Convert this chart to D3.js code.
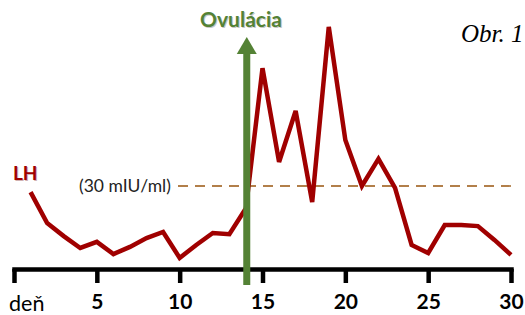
<!DOCTYPE html>
<html>
<head>
<meta charset="utf-8">
<script src="https://cdn.jsdelivr.net/npm/d3@7"></script>
<style>
  body { margin: 0; background: #fff; }
  svg { display: block; }
</style>
</head>
<body>
<svg width="525" height="315"></svg>
<script>
// LH levels (mIU/ml) per cycle day
const days = d3.range(1, 31);
const lh = [27.8, 16.6, 11.9, 7.6, 9.8, 5.4, 8.0, 11.2, 13.4, 4.0,
            8.7, 13.0, 12.6, 22.0, 72.6, 38.7, 57.1, 24.2, 87.5, 46.6,
            30.0, 39.8, 29.3, 8.7, 5.8, 15.9, 15.9, 15.5, 10.5, 5.1];
const tickDays = [0, 5, 10, 15, 20, 25, 30];
const threshold = 30;
const ovulationDay = 14.05;

const svg = d3.select("svg");

const x = d3.scaleLinear().domain([0, 30]).range([14, 511]);
const y = d3.scaleLinear().domain([0, 30]).range([269, 186]);

// threshold dashed line
svg.append("line")
  .attr("x1", 178)
  .attr("x2", x(30))
  .attr("y1", y(threshold))
  .attr("y2", y(threshold))
  .attr("stroke", "#b27f4a")
  .attr("stroke-width", 1.8)
  .attr("stroke-dasharray", "10,7");

svg.append("text")
  .attr("x", 79)
  .attr("y", y(threshold) + 6)
  .attr("font-family", "Lato, sans-serif")
  .attr("font-size", 17.5)
  .attr("fill", "#222")
  .text("(30 mIU/ml)");

// LH line
const line = d3.line()
  .x((d, i) => x(days[i]))
  .y((d) => y(d));

svg.append("path")
  .datum(lh)
  .attr("fill", "none")
  .attr("stroke", "#a00000")
  .attr("stroke-width", 4.5)
  .attr("stroke-linejoin", "miter")
  .attr("d", line);

// axis
const axis = svg.append("g")
  .attr("transform", `translate(0,${y(0)})`)
  .call(d3.axisBottom(x)
    .tickValues(tickDays)
    .tickSize(14)
    .tickSizeOuter(0)
    .tickPadding(11)
    .tickFormat((d) => (d === 0 ? "" : d)));

axis.select(".domain")
  .attr("stroke", "#000")
  .attr("stroke-width", 4.5)
  .attr("stroke-linecap", "square");
axis.selectAll(".tick line")
  .attr("stroke", "#000")
  .attr("stroke-width", 4.5);
axis.selectAll(".tick text")
  .attr("fill", "#000")
  .attr("font-family", "Lato, sans-serif")
  .attr("font-weight", "bold")
  .attr("font-size", 21);

svg.append("text")
  .attr("x", 9)
  .attr("y", 311)
  .attr("font-family", "Lato, sans-serif")
  .attr("font-size", 21.5)
  .attr("fill", "#000")
  .text("deň");

// ovulation arrow
const ax = x(ovulationDay);
const green = "#548235";
svg.append("rect")
  .attr("x", ax - 3.5)
  .attr("y", 50)
  .attr("width", 7)
  .attr("height", 235)
  .attr("fill", green);
svg.append("path")
  .attr("d", `M${ax - 10},54L${ax + 10},54L${ax},37Z`)
  .attr("fill", green);

const ov = svg.append("g");
ov.append("text")
  .attr("x", 242)
  .attr("y", 28)
  .attr("text-anchor", "middle")
  .attr("font-family", "Lato, sans-serif")
  .attr("font-weight", "bold")
  .attr("font-size", 21)
  .attr("fill", "#c8c8c8")
  .text("Ovulácia");
ov.append("text")
  .attr("x", 241)
  .attr("y", 27)
  .attr("text-anchor", "middle")
  .attr("font-family", "Lato, sans-serif")
  .attr("font-weight", "bold")
  .attr("font-size", 21)
  .attr("fill", green)
  .text("Ovulácia");

// LH label
svg.append("text")
  .attr("x", 14)
  .attr("y", 181)
  .attr("font-family", "Lato, sans-serif")
  .attr("font-weight", "bold")
  .attr("font-size", 19)
  .attr("fill", "#d0b0b0")
  .text("LH");
svg.append("text")
  .attr("x", 13)
  .attr("y", 180)
  .attr("font-family", "Lato, sans-serif")
  .attr("font-weight", "bold")
  .attr("font-size", 19)
  .attr("fill", "#a00000")
  .text("LH");

svg.append("text")
  .attr("x", 461)
  .attr("y", 42)
  .attr("font-family", "Liberation Serif, serif")
  .attr("font-style", "italic")
  .attr("font-size", 25)
  .attr("fill", "#000")
  .text("Obr. 1");
</script>
</body>
</html>
